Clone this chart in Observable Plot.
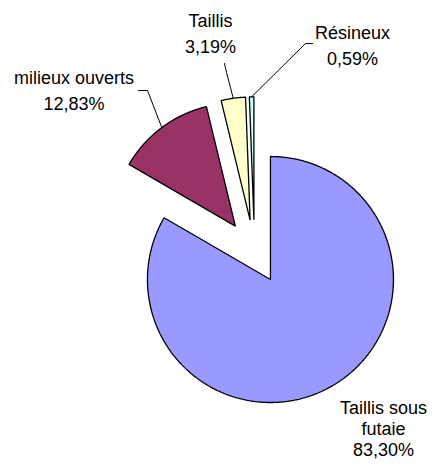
<!DOCTYPE html>
<html>
<head>
<meta charset="utf-8">
<script src="https://cdn.jsdelivr.net/npm/d3@7"></script>
<script src="https://cdn.jsdelivr.net/npm/@observablehq/plot@0.6"></script>
<style>
  html, body { margin: 0; padding: 0; background: #ffffff; }
  #chart svg { display: block; }
</style>
</head>
<body>
<div id="chart"></div>
<script>
// ---- data ----
const categories = ["Taillis sous futaie", "milieux ouverts", "Taillis", "Résineux"];
const values = [83.30, 12.83, 3.19, 0.59];
const valueLabels = ["83,30%", "12,83%", "3,19%", "0,59%"];
const nameLabels = ["Taillis sous\nfutaie", "milieux ouverts", "Taillis", "Résineux"];
const colors = ["#9999FF", "#993366", "#FFFFCC", "#CCFFFF"];

// ---- layout (pie space: radius = 1, y up) ----
const W = 437, H = 466;
const Rpx = 123, cx = 254, cy = 251.3;
const explode = 0.26;
const toX = px => (px - cx) / Rpx;
const toY = py => (cy - py) / Rpx;

// label block centres and leader elbows (pixel estimates converted to pie space)
const labelPos = [
  {x: toX(383), y: toY(428), lh: 1.17},
  {x: toX(73.5), y: toY(88.5), lh: 1.45},
  {x: toX(210), y: toY(31.5), lh: 1.45},
  {x: toX(352), y: toY(43), lh: 1.45}
];
const leaderElbows = [
  null,
  [[toX(138), toY(90)], [toX(147), toY(90)]],
  [[toX(224), toY(63)], [toX(226), toY(72)]],
  [[toX(312), toY(43)], [toX(305), toY(43)]]
];

// ---- slice geometry from the data ----
const arcs = d3.pie().sort(null).value(d => d)(values);
const slicePts = [];
const leaderPts = [];
arcs.forEach((a, i) => {
  const mid = (a.startAngle + a.endAngle) / 2;
  const ox = explode * Math.sin(mid), oy = explode * Math.cos(mid);
  const name = categories[i];
  slicePts.push({name, x: ox, y: oy});
  const n = Math.max(2, Math.ceil((a.endAngle - a.startAngle) / (Math.PI / 360)) + 1);
  for (let k = 0; k < n; k++) {
    const t = a.startAngle + (a.endAngle - a.startAngle) * k / (n - 1);
    slicePts.push({name, x: ox + Math.sin(t), y: oy + Math.cos(t)});
  }
  if (leaderElbows[i]) {
    leaderElbows[i].forEach(p => leaderPts.push({name, x: p[0], y: p[1]}));
    leaderPts.push({name, x: ox + Math.sin(mid), y: oy + Math.cos(mid)});
  }
});

const labelData = categories.map((c, i) => ({
  name: c,
  text: nameLabels[i] + "\n" + valueLabels[i],
  x: labelPos[i].x, y: labelPos[i].y, lh: labelPos[i].lh
}));

const chart = Plot.plot({
  width: W,
  height: H,
  margin: 0,
  x: {axis: null, domain: [toX(0), toX(W)]},
  y: {axis: null, domain: [toY(H), toY(0)]},
  color: {domain: categories, range: colors},
  style: {fontFamily: "'Liberation Sans', Arial, sans-serif", background: "#ffffff"},
  marks: [
    Plot.line(slicePts, {
      x: "x", y: "y", z: "name", fill: "name",
      stroke: "#000000", strokeWidth: 1.3, curve: "linear-closed", strokeLinejoin: "miter"
    }),
    Plot.line(leaderPts, {
      x: "x", y: "y", z: "name", stroke: "#000000", strokeWidth: 1
    }),
    Plot.text(labelData.filter(d => d.lh > 1.3), {
      x: "x", y: "y", text: "text", fontSize: 18, lineHeight: 1.45,
      textAnchor: "middle", lineAnchor: "middle", fill: "#000000"
    }),
    Plot.text(labelData.filter(d => d.lh <= 1.3), {
      x: "x", y: "y", text: "text", fontSize: 18, lineHeight: 1.17,
      textAnchor: "middle", lineAnchor: "middle", fill: "#000000"
    })
  ]
});
document.getElementById("chart").appendChild(chart);
</script>
</body>
</html>
